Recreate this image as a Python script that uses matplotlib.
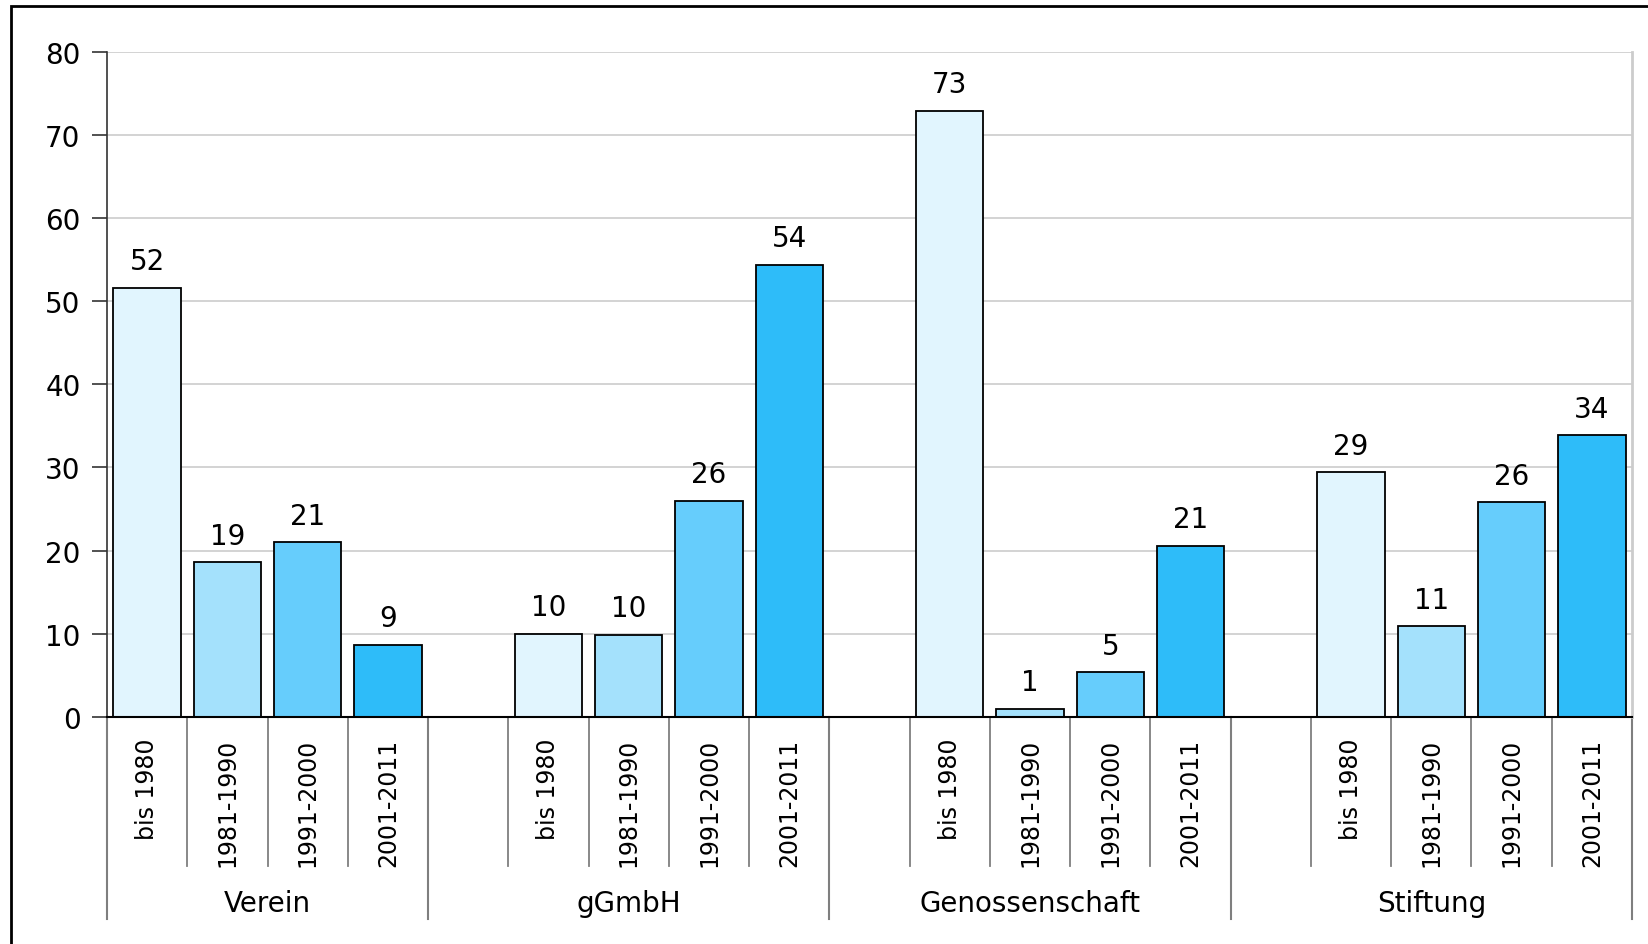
import matplotlib.pyplot as plt
import matplotlib.transforms as mtransforms
from matplotlib.patches import Rectangle

plt.rcParams['font.family'] = ['DejaVu Sans']

# Daten
groups = ["Verein", "gGmbH", "Genossenschaft", "Stiftung"]
periods = ["bis 1980", "1981-1990", "1991-2000", "2001-2011"]
verein = [51.6, 18.6, 21.0, 8.7]
ggmbh = [10.0, 9.9, 26.0, 54.4]
genossenschaft = [72.9, 1.0, 5.4, 20.6]
stiftung = [29.4, 10.9, 25.8, 33.9]
colors = ["#E1F5FE", "#A4E1FC", "#66CDFC", "#2EBCF9"]
yticks = [0, 10, 20, 30, 40, 50, 60, 70, 80]

series = [verein, ggmbh, genossenschaft, stiftung]
FS = 20      # horizontale Texte
FS_ROT = 17  # gedrehte Kategorien

fig = plt.figure(figsize=(16.48, 9.45), dpi=100)
ax = fig.add_axes([107 / 1648, 1 - 718 / 945, (1632 - 107) / 1648, (718 - 52.6) / 945])

# slots: 4 Balken pro Gruppe, dazwischen eine Leerstelle
step = len(periods) + 1
positions, labels = [], []
for g, vals in enumerate(series):
    xs = [g * step + j for j in range(len(periods))]
    ax.bar(xs, vals, width=0.84, color=colors, edgecolor="black", linewidth=1.3, zorder=3)
    for x, v in zip(xs, vals):
        ax.annotate(f"{round(v)}", (x, v), xytext=(0, 9), textcoords="offset points",
                    ha="center", va="bottom", fontsize=FS)
    positions += xs
    labels += periods

nslots = len(groups) * step - 1
ax.set_xlim(-0.5, nslots - 0.5)
ax.set_ylim(0, 80)
ax.set_yticks(yticks)
ax.tick_params(axis="y", labelsize=FS, length=11, width=1.2, color="#333333", pad=8)
ax.yaxis.grid(True, color="#CCCCCC", linewidth=1.2, zorder=0)
ax.set_xticks(positions)
ax.set_xticklabels(labels, rotation=90, fontsize=FS_ROT)
ax.tick_params(axis="x", length=0, pad=15)

ax.spines["top"].set_visible(False)
ax.spines["right"].set_color("#CCCCCC")
ax.spines["right"].set_linewidth(2)
ax.spines["left"].set_color("#333333")
ax.spines["left"].set_linewidth(1.2)
ax.spines["bottom"].set_color("black")
ax.spines["bottom"].set_linewidth(1.5)
ax.spines["bottom"].set_zorder(4)

# Trennlinien unter der Achse
trans = mtransforms.blended_transform_factory(ax.transData, ax.transAxes)
h_ax = (718 - 52.6)
short_y = -(867 - 718) / h_ax
long_y = -(920 - 718) / h_ax
group_edges = [-0.5] + [g * step + len(periods) - 0.5 for g in range(len(groups) - 1)] + [nslots - 0.5]
for b in range(nslots + 1):
    xb = b - 0.5
    if xb in group_edges:
        ax.plot([xb, xb], [0, long_y], transform=trans, color="#7F7F7F", lw=1.5, clip_on=False)
    else:
        ax.plot([xb, xb], [0, short_y], transform=trans, color="#7F7F7F", lw=1.3, clip_on=False)

label_y = -(904 - 718) / h_ax
for g, name in enumerate(groups):
    xc = (group_edges[g] + group_edges[g + 1]) / 2
    ax.text(xc, label_y, name, transform=trans, ha="center", va="center", fontsize=FS)

# Rahmen
fig.patches.append(Rectangle((11 / 1648, -0.1), 1.2, 1 - 7 / 945 + 0.1, transform=fig.transFigure,
                             fill=False, edgecolor="black", linewidth=2))

fig.savefig("out.png", dpi=100)
